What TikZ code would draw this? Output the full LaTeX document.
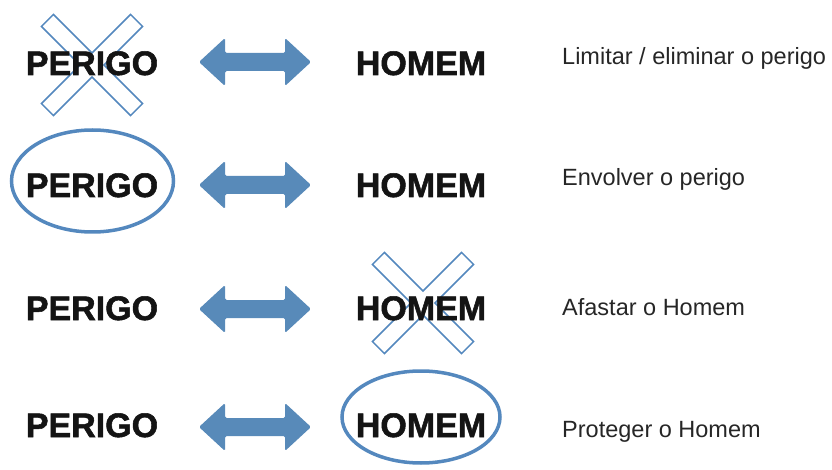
\documentclass[tikz,border=0pt]{standalone}
\usepackage{fontspec}
\setmainfont{Liberation Sans}
\newfontfamily\heavyfont[FakeBold=1.6]{Liberation Sans Bold}
\definecolor{arrowblue}{RGB}{88,138,185}
\definecolor{lineblue}{RGB}{84,136,190}
\tikzset{
  big/.style={font=\fontsize{34}{34}\heavyfont, text=black!92, inner sep=0pt, anchor=base},
  desc/.style={font=\fontsize{23.5}{24}\selectfont, text=black!85, inner sep=0pt, anchor=base west},
  ringshape/.style={draw=lineblue, line width=3.5pt},
  dblarr/.pic={\fill[arrowblue, rounded corners=1.5pt] (-56,0) -- (-30,24) -- (-30,9) -- (30,9) -- (30,24) -- (56,0) -- (30,-24) -- (30,-9) -- (-30,-9) -- (-30,-24) -- cycle;},
  xcross/.pic={\draw[lineblue, line width=1.5pt, fill=white, rotate=45, line join=miter]
    (-8.5,63) -- (8.5,63) -- (8.5,8.5) -- (63,8.5) -- (63,-8.5) -- (8.5,-8.5) -- (8.5,-63) -- (-8.5,-63) -- (-8.5,-8.5) -- (-63,-8.5) -- (-63,8.5) -- (-8.5,8.5) -- cycle;}
}
\begin{document}
\begin{tikzpicture}[x=1pt,y=-1pt]
\useasboundingbox (0,0) rectangle (832,470);
% row 1
\pic at (92,65) {xcross};
\node[big] (p1) at (92,75) {PERIGO};
\pic at (255,62) {dblarr};
\node[big] (h1) at (421,75) {HOMEM};
\node[desc] (d1) at (562,65) {Limitar / eliminar o perigo};
% row 2
\draw[ringshape] (92.5,181) ellipse [x radius=81, y radius=51];
\node[big] (p2) at (92,197) {PERIGO};
\pic at (255,185) {dblarr};
\node[big] (h2) at (421,197) {HOMEM};
\node[desc] (d2) at (562,186) {Envolver o perigo};
% row 3
\node[big] (p3) at (92,320) {PERIGO};
\pic at (255,309) {dblarr};
\pic at (423,303) {xcross};
\node[big] (h3) at (421,320) {HOMEM};
\node[desc] (d3) at (562,315) {Afastar o Homem};
% row 4
\node[big] (p4) at (92,437) {PERIGO};
\pic at (255,427) {dblarr};
\draw[ringshape] (421,417) ellipse [x radius=79, y radius=46];
\node[big] (h4) at (421,437) {HOMEM};
\node[desc] (d4) at (562,437) {Proteger o Homem};
\end{tikzpicture}
\end{document}
